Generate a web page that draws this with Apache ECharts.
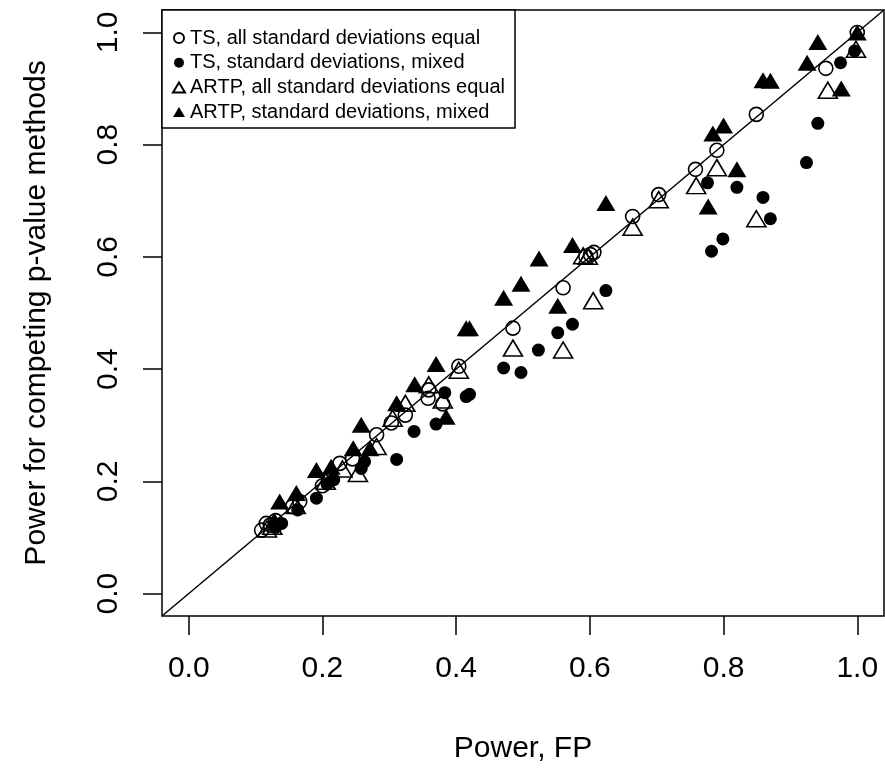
<!DOCTYPE html>
<html>
<head>
<meta charset="utf-8">
<script src="https://cdn.jsdelivr.net/npm/echarts@6/dist/echarts.min.js"></script>
<style>
  html, body { margin: 0; padding: 0; background: #fff; }
  #chart { width: 885px; height: 772px; }
</style>
</head>
<body>
<div id="chart"></div>
<script>
// axis range (R style, 4% padding around 0..1) and tick positions
const axisMin = -0.04;
const axisMax = 1.04;
const tickValues = [0, 0.2, 0.4, 0.6, 0.8, 1.0];

// [Power FP, Power competing method]
const tsEqual = [
  [1.0, 1.0], [0.953, 0.936], [0.849, 0.854], [0.790, 0.790], [0.758, 0.756],
  [0.703, 0.711], [0.664, 0.672], [0.594, 0.601], [0.601, 0.604], [0.606, 0.608],
  [0.560, 0.545], [0.485, 0.473], [0.404, 0.405], [0.359, 0.363], [0.358, 0.348],
  [0.380, 0.338], [0.324, 0.318], [0.303, 0.304], [0.281, 0.283], [0.226, 0.232],
  [0.245, 0.240], [0.166, 0.164], [0.200, 0.192], [0.116, 0.125], [0.109, 0.113],
  [0.122, 0.122], [0.130, 0.130], [0.155, 0.155]
];
const tsMixed = [
  [0.996, 0.967], [0.975, 0.946], [0.941, 0.838], [0.924, 0.768], [0.776, 0.732],
  [0.820, 0.724], [0.859, 0.706], [0.870, 0.668], [0.799, 0.632], [0.782, 0.610],
  [0.624, 0.540], [0.574, 0.480], [0.552, 0.465], [0.523, 0.434], [0.471, 0.402],
  [0.497, 0.394], [0.415, 0.351], [0.420, 0.355], [0.383, 0.358], [0.370, 0.302],
  [0.337, 0.289], [0.311, 0.239], [0.263, 0.235], [0.258, 0.223], [0.217, 0.203],
  [0.207, 0.195], [0.191, 0.170], [0.163, 0.149], [0.139, 0.125], [0.130, 0.118]
];
const artpEqual = [
  [0.998, 0.970], [0.956, 0.897], [0.849, 0.668], [0.790, 0.759], [0.759, 0.727],
  [0.703, 0.702], [0.664, 0.653], [0.590, 0.602], [0.597, 0.601], [0.605, 0.522],
  [0.560, 0.434], [0.485, 0.4375], [0.404, 0.398], [0.380, 0.345], [0.359, 0.372],
  [0.324, 0.339], [0.305, 0.3125], [0.281, 0.262], [0.253, 0.214], [0.230, 0.222],
  [0.205, 0.200], [0.160, 0.157], [0.125, 0.120], [0.117, 0.115]
];
const artpMixed = [
  [1.0, 1.0], [0.941, 0.983], [0.925, 0.946], [0.976, 0.900], [0.859, 0.915],
  [0.870, 0.914], [0.784, 0.820], [0.800, 0.834], [0.820, 0.756], [0.777, 0.690],
  [0.624, 0.696], [0.574, 0.621], [0.524, 0.597], [0.497, 0.552], [0.471, 0.527],
  [0.552, 0.513], [0.415, 0.473], [0.420, 0.473], [0.370, 0.409], [0.338, 0.373],
  [0.311, 0.339], [0.385, 0.315], [0.258, 0.301], [0.271, 0.259], [0.246, 0.259],
  [0.191, 0.220], [0.213, 0.226], [0.136, 0.164], [0.161, 0.179], [0.128, 0.130]
];

const names = [
  "TS, all standard deviations equal",
  "TS, standard deviations, mixed",
  "ARTP, all standard deviations equal",
  "ARTP, standard deviations, mixed"
];

const font = "'Liberation Sans', Arial, sans-serif";
const ink = "#000";
const hollow = { color: "rgba(0,0,0,0)", borderColor: ink, borderWidth: 1.6, opacity: 1 };
const solid = { color: ink, borderWidth: 0, opacity: 1 };

const chart = echarts.init(document.getElementById("chart"));

function axis(extra){
  return Object.assign({
    type: "value",
    min: axisMin,
    max: axisMax,
    nameLocation: "middle",
    nameTextStyle: { fontFamily: font, fontSize: 30, color: ink },
    axisLine: { show: false, onZero: false },
    axisTick: {
      show: true, inside: false, length: 19,
      customValues: tickValues,
      lineStyle: { color: ink, width: 1.5 }
    },
    axisLabel: {
      fontFamily: font, fontSize: 30, color: ink,
      customValues: tickValues,
      formatter: v => v.toFixed(1)
    },
    splitLine: { show: false }
  }, extra);
}

const xAx = axis({ name: "Power, FP", nameGap: 118 });
xAx.axisLabel.margin = 38;
const yAx = axis({ name: "Power for competing p-value methods", nameGap: 110 });
yAx.axisLabel.margin = 38;
yAx.axisLabel.rotate = 90;

chart.setOption({
  animation: false,
  grid: {
    left: 162, right: 1, top: 10, bottom: 156,
    show: true, borderColor: ink, borderWidth: 1.5, backgroundColor: "#fff"
  },
  xAxis: xAx,
  yAxis: yAx,
  legend: {
    orient: "vertical",
    left: 162, top: 10,
    padding: [18, 10, 6, 10],
    itemGap: 4.7,
    itemWidth: 12, itemHeight: 10,
    backgroundColor: "#fff",
    borderColor: ink, borderWidth: 1.5,
    textStyle: { fontFamily: font, fontSize: 20, color: ink, lineHeight: 20 },
    data: [
      { name: names[0], icon: "circle" },
      { name: names[1], icon: "circle" },
      { name: names[2], icon: "triangle" },
      { name: names[3], icon: "triangle" }
    ]
  },
  series: [
    {
      name: "y = x", type: "line", silent: true, symbol: "none",
      data: [[axisMin, axisMin], [axisMax, axisMax]],
      lineStyle: { color: ink, width: 1.5 }, z: 1
    },
    { name: names[0], type: "scatter", symbol: "circle", symbolSize: 14, data: tsEqual, itemStyle: hollow, z: 3 },
    { name: names[1], type: "scatter", symbol: "circle", symbolSize: 13, data: tsMixed, itemStyle: solid, z: 3 },
    { name: names[2], type: "scatter", symbol: "triangle", symbolSize: [19, 16], data: artpEqual, itemStyle: hollow, z: 3 },
    { name: names[3], type: "scatter", symbol: "triangle", symbolSize: [19, 16], data: artpMixed, itemStyle: solid, z: 3 }
  ]
});
</script>
</body>
</html>
